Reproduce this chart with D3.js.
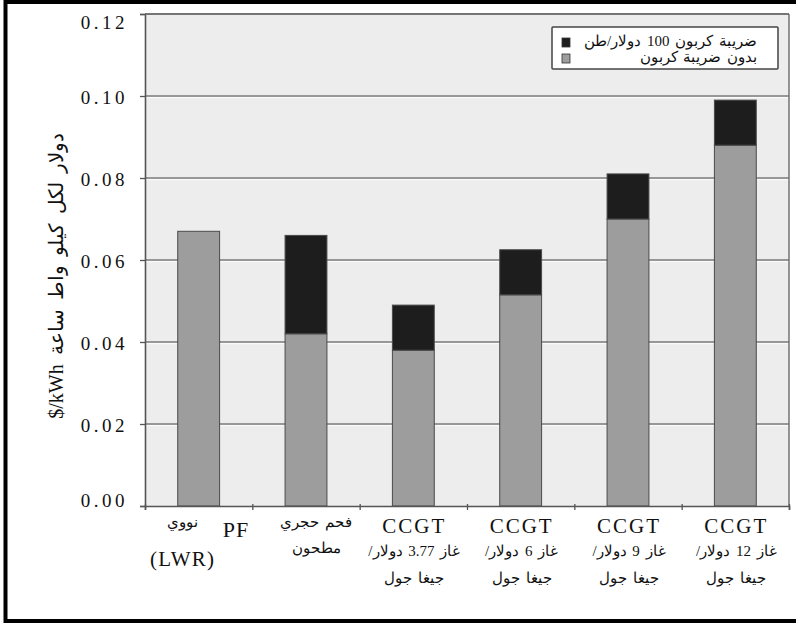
<!DOCTYPE html>
<html>
<head>
<meta charset="utf-8">
<script src="https://cdn.jsdelivr.net/npm/d3@7"></script>
<style>
  body { margin: 0; background: #fff; }
  svg text { font-family: "Liberation Serif", "DejaVu Serif", serif; fill: #111; }
</style>
</head>
<body>
<div id="chart"></div>
<script>
// data
const categories = [`nuclear`, `pf`, `ccgt377`, `ccgt6`, `ccgt9`, `ccgt12`];
const noTax = [0.067, 0.042, 0.038, 0.0515, 0.070, 0.088];
const tax100 = [0, 0.024, 0.011, 0.011, 0.011, 0.011];
const seriesNames = [`ضريبة كربون 100 دولار/طن`, `بدون ضريبة كربون`];
const yTicks = [0, 0.02, 0.04, 0.06, 0.08, 0.10, 0.12];
const xLabels = [
    [`نووي`, `(LWR)`],
    [`فحم حجري`, `مطحون`],
    [`CCGT`, `غاز 3.77 دولار/`, `جيغا جول`],
    [`CCGT`, `غاز 6 دولار/`, `جيغا جول`],
    [`CCGT`, `غاز 9 دولار/`, `جيغا جول`],
    [`CCGT`, `غاز 12 دولار/`, `جيغا جول`]
];
const yTitle = `$/kWh دولار لكل كيلو واط ساعة`;

const W = 796, H = 623;
const margin = {top: 14, right: 7, bottom: 117, left: 145};
const width = W - margin.left - margin.right;
const height = H - margin.top - margin.bottom;

let svg = d3.select(`#chart`).append(`svg`)
    .attr(`width`, W)
    .attr(`height`, H);

// outer frame
svg.append(`rect`)
    .attr(`x`, 5.5).attr(`y`, 2).attr(`width`, W + 10).attr(`height`, H - 4)
    .attr(`fill`, `none`).attr(`stroke`, `#000`).attr(`stroke-width`, 4);

let graph = svg.append(`g`)
    .attr(`transform`, `translate(` + margin.left + `,` + margin.top + `)`);

let x = d3.scaleBand().domain(categories).range([0, width]).paddingInner(0.61).paddingOuter(0.305);
let xEdge = d3.scaleLinear().domain([0, categories.length]).range([0, width]);
let y = d3.scaleLinear().domain([0, 0.12]).range([height, 0]);

// plot background
graph.append(`rect`)
    .attr(`width`, width).attr(`height`, height)
    .attr(`fill`, `#ededed`);

// grid
let grid = graph.append(`g`).attr(`class`, `grid`);
grid.selectAll(`line.hl`)
    .data(yTicks.filter(d => d > 0 && d < 0.12))
    .enter().append(`line`)
    .attr(`class`, `hl`)
    .attr(`x1`, 0).attr(`x2`, width)
    .attr(`y1`, d => y(d) + 1.6).attr(`y2`, d => y(d) + 1.6)
    .attr(`stroke`, `#fafafa`).attr(`stroke-width`, 1.2);
grid.selectAll(`line.gl`)
    .data(yTicks.filter(d => d > 0))
    .enter().append(`line`)
    .attr(`class`, `gl`)
    .attr(`x1`, 0).attr(`x2`, width)
    .attr(`y1`, d => y(d)).attr(`y2`, d => y(d))
    .attr(`stroke`, `#7a7a7a`).attr(`stroke-width`, 1.4);

// right frame of plot
graph.append(`line`)
    .attr(`x1`, width).attr(`x2`, width).attr(`y1`, 0).attr(`y2`, height)
    .attr(`stroke`, `#6a6a6a`).attr(`stroke-width`, 1.4);

// stacked bars
let stackData = categories.map((c, i) => ({cat: c, base: noTax[i], tax: tax100[i]}));
let stack = d3.stack().keys([`base`, `tax`])(stackData);
let colors = {base: `#9d9d9d`, tax: `#1d1d1d`};

graph.append(`g`).attr(`class`, `bars`)
    .selectAll(`g`)
    .data(stack)
    .enter().append(`g`)
    .attr(`fill`, d => colors[d.key])
    .selectAll(`rect`)
    .data(d => d.filter(s => s[1] > s[0]))
    .enter().append(`rect`)
    .attr(`x`, d => x(d.data.cat))
    .attr(`width`, x.bandwidth())
    .attr(`y`, d => y(d[1]))
    .attr(`height`, d => y(d[0]) - y(d[1]))
    .attr(`stroke`, `#4a4a4a`)
    .attr(`stroke-width`, 1);

// Y-axis
let yAxis = graph.append(`g`)
    .attr(`class`, `y axis`)
    .call(d3.axisLeft(y).tickValues(yTicks).tickSize(5).tickPadding(12).tickFormat(d3.format(`.2f`)));
yAxis.select(`.domain`).attr(`stroke`, `#555`).attr(`stroke-width`, 1.6);
yAxis.selectAll(`.tick line`).attr(`stroke`, `#555`).attr(`stroke-width`, 1.3);
yAxis.selectAll(`text`)
    .attr(`font-size`, 19)
    .attr(`letter-spacing`, 3.5)
    .attr(`fill`, `#111`)
    .attr(`dy`, d => d === 0.12 ? `0.75em` : d === 0 ? `0.05em` : `0.4em`);

// X-axis
let xAxis = graph.append(`g`)
    .attr(`class`, `x axis`)
    .attr(`transform`, `translate(0,` + height + `)`)
    .call(d3.axisBottom(xEdge).ticks(categories.length).tickSize(4).tickFormat(``));
xAxis.select(`.domain`).attr(`stroke`, `#555`).attr(`stroke-width`, 1.6);
xAxis.selectAll(`.tick line`).attr(`stroke`, `#555`).attr(`stroke-width`, 1.3).attr(`y1`, -2);

// top frame of plot
graph.append(`line`)
    .attr(`x1`, 0).attr(`x2`, width).attr(`y1`, 0).attr(`y2`, 0)
    .attr(`stroke`, `#6a6a6a`).attr(`stroke-width`, 1.6);

// x labels
let isLatin = s => /^[A-Za-z()]+$/.test(s);
let labels = graph.append(`g`).attr(`class`, `x labels`);
xLabels.forEach((lines, i) => {
    let cx = x(categories[i]) + x.bandwidth() / 2;
    let shift = i === 0 ? -16 : i === 1 ? 10 : 1;
    let rows = lines.length === 3 ? [27, 50, 77] : i === 0 ? [21, 60] : [21, 47];
    lines.forEach((t, j) => {
        labels.append(`text`)
            .attr(`x`, cx + shift)
            .attr(`y`, height + rows[j])
            .attr(`text-anchor`, `middle`)
            .attr(`direction`, isLatin(t) ? `ltr` : `rtl`)
            .attr(`font-size`, isLatin(t) ? 21 : 15)
            .attr(`letter-spacing`, t === `CCGT` ? 2 : isLatin(t) ? 1.2 : 0)
            .attr(`word-spacing`, isLatin(t) ? 0 : 2)
            .text(t);
    });
});
// stray "PF" label sits left of the coal category
labels.append(`text`)
    .attr(`x`, x(`pf`) + x.bandwidth() / 2 - 70)
    .attr(`y`, height + 31)
    .attr(`text-anchor`, `middle`)
    .attr(`font-size`, 22)
    .attr(`letter-spacing`, 1)
    .text(`PF`);

// y title
svg.append(`text`)
    .attr(`transform`, `translate(63,` + (margin.top + height / 2 + 16) + `) rotate(-90)`)
    .attr(`text-anchor`, `middle`)
    .attr(`font-size`, 20)
    .attr(`word-spacing`, 4)
    .text(yTitle);

// legend
let legend = graph.append(`g`).attr(`class`, `legend`)
    .attr(`transform`, `translate(` + (width - 237) + `,13)`);
legend.append(`rect`)
    .attr(`width`, 226).attr(`height`, 42)
    .attr(`fill`, `#fff`).attr(`stroke`, `#444`).attr(`stroke-width`, 1.5).attr(`rx`, 1);
seriesNames.forEach((name, i) => {
    legend.append(`rect`)
        .attr(`x`, 10).attr(`y`, 11 + i * 16)
        .attr(`width`, 8).attr(`height`, 9)
        .attr(`fill`, i === 0 ? colors.tax : colors.base)
        .attr(`stroke`, `#333`).attr(`stroke-width`, 0.8);
    legend.append(`text`)
        .attr(`x`, 205).attr(`y`, 19 + i * 16)
        .attr(`text-anchor`, `end`)
        .attr(`font-size`, 15)
        .attr(`word-spacing`, 2)
        .text(name);
});
</script>
</body>
</html>
